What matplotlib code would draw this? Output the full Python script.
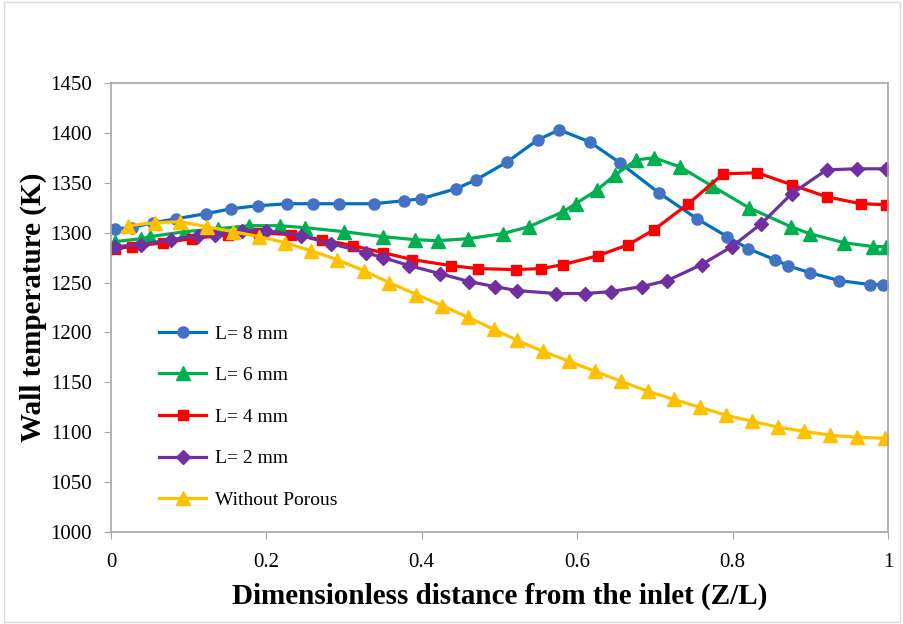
import matplotlib
matplotlib.use("Agg")
import matplotlib.pyplot as plt
from matplotlib.patches import Rectangle

# values
x_l8 = [0.005, 0.027, 0.054, 0.084, 0.122, 0.155, 0.189, 0.227, 0.26, 0.294, 0.338, 0.377, 0.399,
        0.444, 0.47, 0.51, 0.549, 0.577, 0.616, 0.655, 0.705, 0.754, 0.793, 0.82, 0.854, 0.871,
        0.899, 0.937, 0.977, 0.993]
t_l8 = [1304, 1305, 1310, 1314, 1319, 1324, 1327, 1329, 1329, 1329, 1329, 1332, 1334,
        1344, 1353, 1371, 1393, 1403, 1391, 1370, 1340, 1314, 1296, 1284, 1273, 1267,
        1260, 1252, 1248, 1248]

x_l6 = [0.005, 0.039, 0.05, 0.095, 0.138, 0.178, 0.217, 0.25, 0.30, 0.35, 0.391, 0.421, 0.46,
        0.504, 0.538, 0.582, 0.598, 0.626, 0.649, 0.676, 0.699, 0.732, 0.773, 0.821, 0.875,
        0.899, 0.943, 0.981, 0.998]
t_l6 = [1291, 1294, 1296, 1301, 1304, 1307, 1307, 1305, 1301, 1296, 1293, 1292, 1294,
        1299, 1306, 1321, 1329, 1343, 1358, 1373, 1375, 1366, 1347, 1325, 1306,
        1299, 1290, 1286, 1286]

x_l4 = [0.005, 0.027, 0.067, 0.104, 0.15, 0.19, 0.232, 0.272, 0.311, 0.35, 0.388, 0.437, 0.472,
        0.521, 0.554, 0.582, 0.627, 0.666, 0.699, 0.743, 0.788, 0.832, 0.876, 0.921, 0.965, 0.997]
t_l4 = [1284, 1286, 1290, 1294, 1298, 1300, 1298, 1293, 1287, 1280, 1273, 1267, 1264,
        1263, 1264, 1268, 1277, 1288, 1303, 1329, 1359, 1360, 1348, 1336, 1329, 1328]

x_l2 = [0.005, 0.038, 0.077, 0.112, 0.134, 0.168, 0.2, 0.245, 0.283, 0.328, 0.35, 0.384, 0.423,
        0.461, 0.494, 0.522, 0.573, 0.61, 0.644, 0.683, 0.716, 0.76, 0.799, 0.837, 0.876,
        0.921, 0.96, 0.997]
t_l2 = [1286, 1288, 1293, 1297, 1298, 1302, 1302, 1297, 1289, 1280, 1275, 1267, 1259,
        1251, 1246, 1242, 1239, 1239, 1241, 1246, 1252, 1268, 1286, 1309, 1339,
        1363, 1364, 1364]

x_np = [0.022, 0.057, 0.089, 0.123, 0.157, 0.191, 0.224, 0.257, 0.291, 0.325, 0.358, 0.393,
        0.426, 0.46, 0.493, 0.523, 0.556, 0.59, 0.623, 0.657, 0.691, 0.724, 0.758, 0.792,
        0.825, 0.859, 0.892, 0.925, 0.96, 0.996]
t_np = [1307, 1310, 1311, 1306, 1301, 1296, 1290, 1282, 1273, 1262, 1250, 1238,
        1227, 1215, 1203, 1192, 1181, 1171, 1161, 1151, 1141, 1133, 1125, 1117,
        1111, 1105, 1101, 1097, 1095, 1094]

xticks = [0, 0.2, 0.4, 0.6, 0.8, 1]
xticklabels = ["0", "0.2", "0.4", "0.6", "0.8", "1"]
yticks = list(range(1000, 1451, 50))

plt.rcParams['font.family'] = ['Liberation Serif', 'DejaVu Serif']

fig = plt.figure(figsize=(9.04, 6.24), dpi=100)
fig.patches.append(Rectangle((0.004, 0.004), 0.992, 0.992, transform=fig.transFigure,
                             fill=False, edgecolor='#d9d9d9', linewidth=1.0))
ax = fig.add_axes([0.1228, 0.1474, 0.8595, 0.7196])

ax.plot(x_l8, t_l8, color='#0070C0', lw=2.3, marker='o', ms=8,
        mfc='#4472C4', mec='#4472C4', label='L= 8 mm')
ax.plot(x_l6, t_l6, color='#00B050', lw=2.3, marker='^', ms=10,
        mfc='#00B050', mec='#00B050', label='L= 6 mm')
ax.plot(x_l4, t_l4, color='#FF0000', lw=2.3, marker='s', ms=7.5,
        mfc='#FF0000', mec='#FF0000', label='L= 4 mm')
ax.plot(x_l2, t_l2, color='#7030A0', lw=2.3, marker='D', ms=7.5,
        mfc='#7030A0', mec='#7030A0', label='L= 2 mm')
ax.plot(x_np, t_np, color='#FFC000', lw=2.3, marker='^', ms=10,
        mfc='#FFC000', mec='#FFC000', label='Without Porous')

ax.set_xlim(0, 1)
ax.set_ylim(1000, 1450)
ax.set_xticks(xticks)
ax.set_xticklabels(xticklabels)
ax.set_yticks(yticks)
ax.tick_params(axis='both', labelsize=15, colors='#a6a6a6', labelcolor='black',
               direction='out', length=5)
ax.tick_params(axis='x', pad=10)
ax.tick_params(axis='y', pad=9)
for s in ax.spines.values():
    s.set_color('#a6a6a6')
    s.set_linewidth(1.2)

ax.set_xlabel('Dimensionless distance from the inlet (Z/L)', fontsize=21,
              fontweight='bold', labelpad=8)
ax.set_ylabel('Wall temperature (K)', fontsize=21, fontweight='bold', labelpad=2)

ax.legend(loc='upper left', bbox_to_anchor=(0.052, 0.478), frameon=False, fontsize=14,
          labelspacing=1.23, handlelength=2.4, handletextpad=0.45, borderaxespad=0)

fig.savefig('out.png', dpi=100)
